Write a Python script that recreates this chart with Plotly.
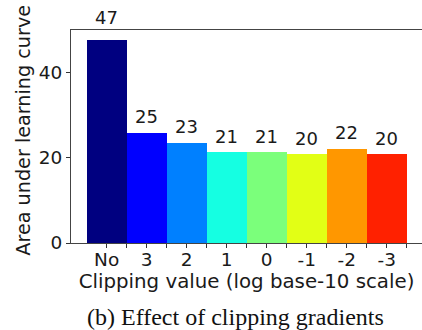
import plotly.graph_objects as go

categories = ["No", "3", "2", "1", "0", "-1", "-2", "-3"]
values = [47.8, 25.8, 23.4, 21.3, 21.3, 20.9, 22.2, 20.9]
colors = ["#000080", "#0000ff", "#0080ff", "#15ffe2", "#7bff7b", "#e2ff15", "#ff9700", "#ff2100"]
y_tick_vals = [0, 20, 40]

x_pos = list(range(len(categories)))

FONT = "DejaVu Sans"
TICK_FS = 18.5
TITLE_FS = 19.8
YTITLE_FS = 19.2
LABEL_FS = 18
Y_MAX = 50.05
TXT = "#1a1a1a"

# plot area in pixels (for placing free text)
L, T, W, H = 71, 30, 351, 212.7

fig = go.Figure()
fig.add_trace(go.Bar(
    x=x_pos, y=values, width=1.0,
    marker=dict(color=colors, line=dict(width=0)),
    showlegend=False, hoverinfo="skip",
))

tickvals = []
ticktext = []
for i, c in enumerate(categories):
    tickvals += [i, i + 0.5]
    ticktext += [c, ""]

annotations = []
for i, v in enumerate(values):
    annotations.append(dict(
        x=i, y=v * 1.05 / Y_MAX, xref="x", yref="paper", text=str(int(v)),
        showarrow=False, yanchor="bottom", xanchor="center",
        font=dict(family=FONT, size=LABEL_FS, color=TXT), yshift=-1,
    ))
# y-axis title
annotations.append(dict(
    x=(23.5 - L) / W, y=(T + H - 130) / H, xref="paper", yref="paper",
    text="Area under learning curve", showarrow=False, textangle=-90,
    xanchor="center", yanchor="middle",
    font=dict(family=FONT, size=YTITLE_FS, color=TXT),
))
# caption
annotations.append(dict(
    x=(235 - L) / W, y=-(316.5 - (T + H)) / H, xref="paper", yref="paper",
    text="(b) Effect of clipping gradients", showarrow=False,
    xanchor="center", yanchor="middle",
    font=dict(family="Liberation Serif", size=24, color="#111"),
))

fig.update_layout(
    width=422, height=330,
    margin=dict(l=L, r=0, t=T, b=330 - T - H),
    plot_bgcolor="white", paper_bgcolor="white",
    bargap=0,
    annotations=annotations,
    xaxis=dict(
        range=[-0.8925, -0.8925 + W / 40],
        tickvals=tickvals, ticktext=ticktext,
        ticks="outside", ticklen=4, tickwidth=1, tickcolor="#333",
        ticklabelstandoff=-4,
        showline=True, linecolor="#444", linewidth=1, mirror=True,
        showgrid=False, zeroline=False,
        tickfont=dict(family=FONT, size=TICK_FS, color=TXT),
        title=dict(text="Clipping value (log base-10 scale)", standoff=0,
                   font=dict(family=FONT, size=TITLE_FS, color=TXT)),
    ),
    yaxis=dict(
        range=[0, Y_MAX],
        tickvals=y_tick_vals,
        ticks="outside", ticklen=4, tickwidth=1, tickcolor="#333",
        showline=True, linecolor="#444", linewidth=1,
        showgrid=False, zeroline=False,
        tickfont=dict(family=FONT, size=TICK_FS, color=TXT),
    ),
)

fig.write_html(
    "out.html",
    config={"displayModeBar": False},
    post_script="document.body.style.margin='0';document.body.style.overflow='hidden';",
)
